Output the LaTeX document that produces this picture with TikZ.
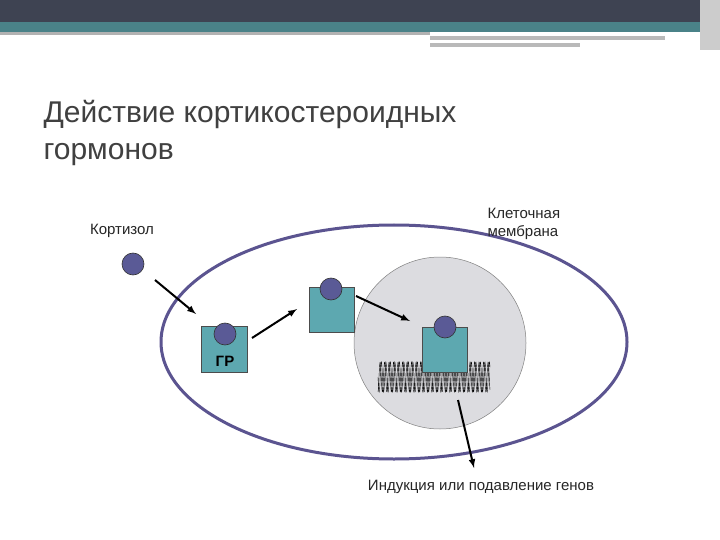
\documentclass[tikz,border=0pt]{standalone}
\usepackage{fontspec}
\setmainfont{Liberation Sans}
\definecolor{ligc}{HTML}{5A5A96}
\definecolor{rc}{HTML}{5DA8B0}
\definecolor{darkb}{HTML}{3E4352}
\definecolor{tealb}{HTML}{4A8288}
\definecolor{memb}{HTML}{5B5490}
\definecolor{nuc}{HTML}{DCDCE0}
\begin{document}
\begin{tikzpicture}[x=1pt,y=-1pt,
  recep/.style={draw=black!70,fill=rc,line width=0.6pt},
  lig/.style={circle,draw=black!80,fill=ligc,minimum size=22pt,inner sep=0pt,line width=0.6pt},
  arr/.style={-latex,line width=2pt},
  lbl/.style={font=\fontsize{15}{18}\selectfont,text=black!85}]
\useasboundingbox (0,0) rectangle (720,540);
\fill[white] (0,0) rectangle (720,540);
% header
\fill[darkb] (0,0) rectangle (720,22);
\fill[tealb] (0,22) rectangle (720,32);
\fill[gray!60] (0,32) rectangle (430,35);
\fill[gray!55] (430,36) rectangle (665,40);
\fill[gray!55] (430,43) rectangle (580,47);
\fill[gray!40] (700,0) rectangle (720,50);
% title
\node[anchor=west,text=black!75,font=\fontsize{30}{36}\selectfont] (t1) at (40,114) {Действие кортикостероидных};
\node[anchor=west,text=black!75,font=\fontsize{30}{36}\selectfont] (t2) at (40,155) {гормонов};
% cell
\draw[memb,line width=3pt] (394,342) ellipse [x radius=233,y radius=117];
\draw[fill=nuc,draw=black!50,line width=0.5pt] (440,343) circle[radius=86];
% DNA
\draw[line width=0.4pt] plot[domain=0:112,samples=400] ({\x+378},{377+15*sin(\x*80)});
\draw[line width=0.4pt] plot[domain=0:112,samples=400] ({\x+378},{377+15*sin(\x*80+100)});
% receptors
\draw[recep] (201,326) rectangle (247,372);
\node[lig] (l1) at (225,334) {};
\node[font=\fontsize{15}{18}\selectfont\bfseries] (gr) at (225,361) {ГР};
\draw[recep] (309,287) rectangle (354,332);
\node[lig] (l2) at (331,289) {};
\draw[recep] (422,327) rectangle (467,372);
\node[lig] (l3) at (445,327) {};
\node[lig] (c0) at (133,264) {};
% labels
\node[lbl] (k) at (122,231) {Кортизол};
\node[lbl,anchor=west,align=left] (m) at (484,224) {Клеточная\\мембрана};
\node[lbl] (ind) at (481,487) {Индукция или подавление генов};
% arrows
\coordinate (a1) at (155,280); \coordinate (b1) at (196,314);
\coordinate (a2) at (252,338); \coordinate (b2) at (297,309);
\coordinate (a3) at (356,296); \coordinate (b3) at (410,321);
\coordinate (a4) at (458,400); \coordinate (b4) at (474,468);
\draw[arr] (a1) -- (b1);
\draw[arr] (a2) -- (b2);
\draw[arr] (a3) -- (b3);
\draw[arr] (a4) -- (b4);
\end{tikzpicture}
\end{document}
